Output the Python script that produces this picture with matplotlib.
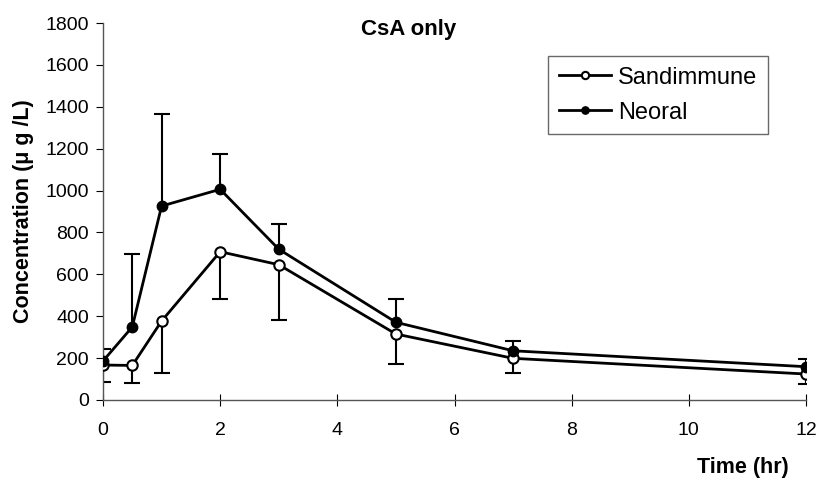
import numpy as np
import matplotlib.pyplot as plt

plt.rcParams['font.family'] = ['Liberation Sans', 'DejaVu Sans']

# sampling times (hr)
time = [0, 0.5, 1, 2, 3, 5, 7, 12]

# mean concentration (ug/L) and error (one-sided)
sandimmune = [167, 165, 377, 708, 646, 315, 199, 124]
sandimmune_err = [80, 85, 250, 227, 264, 143, 72, 49]
neoral = [186, 349, 926, 1006, 720, 371, 235, 159]
neoral_err = [57, 347, 440, 167, 120, 110, 48, 35]

fig = plt.figure(figsize=(8.19, 4.87), dpi=100)
ax = fig.add_axes([103 / 819, 1 - 400 / 487, 703 / 819, 377 / 487])

t = np.array(time)
s_low = np.array(sandimmune) - np.array(sandimmune_err)
n_high = np.array(neoral) + np.array(neoral_err)

# error bars: Sandimmune downward, Neoral upward, cap only at the far end
ax.vlines(t, s_low, sandimmune, color='black', lw=1.5, zorder=2)
ax.plot(t, s_low, '_', color='black', ms=12, mew=1.5, zorder=2)
ax.vlines(t, neoral, n_high, color='black', lw=1.5, zorder=2)
ax.plot(t, n_high, '_', color='black', ms=12, mew=1.5, zorder=2)

ax.plot(time, sandimmune, '-o', color='black', lw=2, ms=7.5,
        mfc='white', mec='black', mew=1.5, label='Sandimmune', zorder=3)
ax.plot(time, neoral, '-o', color='black', lw=2, ms=7.5,
        mfc='black', mec='black', label='Neoral', zorder=3)

ax.set_xlim(0, 12)
ax.set_ylim(0, 1800)
ax.set_xticks(range(0, 13, 2))
ax.set_yticks(range(0, 1801, 200))

for s in ['top', 'right']:
    ax.spines[s].set_visible(False)
for s in ['left', 'bottom']:
    ax.spines[s].set_color('#555555')
    ax.spines[s].set_linewidth(1)

ax.tick_params(axis='y', direction='out', length=5, labelsize=14, pad=5)
ax.tick_params(axis='x', direction='inout', length=8, labelsize=14, pad=12)

fig.text(409 / 819, 1 - 30 / 487, 'CsA only', fontsize=16, fontweight='bold',
         ha='center', va='center')
ax.set_ylabel('Concentration (\u03bc g /L)', fontsize=15.5, fontweight='bold', labelpad=8)
fig.text(743 / 819, 1 - 468 / 487, 'Time (hr)', fontsize=15.5, fontweight='bold',
         ha='center', va='center')

leg = ax.legend(loc='upper left', bbox_to_anchor=((548 - 103) / 703, (400 - 56) / 377),
                frameon=True, fancybox=False, fontsize=17, handlelength=2.2,
                markerscale=0.7, borderpad=0.45, labelspacing=0.55, handletextpad=0.3,
                borderaxespad=0)
leg.get_frame().set_edgecolor('#444444')
leg.get_frame().set_linewidth(1)

fig.savefig('out.png', dpi=100)
